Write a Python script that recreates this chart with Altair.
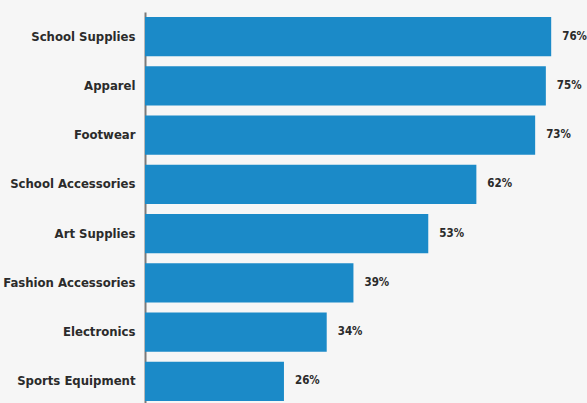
import altair as alt
import pandas as pd

categories = ["School Supplies", "Apparel", "Footwear", "School Accessories",
              "Art Supplies", "Fashion Accessories", "Electronics", "Sports Equipment"]
values = [76, 75, 73, 62, 53, 39, 34, 26]
labels = ["76%", "75%", "73%", "62%", "53%", "39%", "34%", "26%"]

df = pd.DataFrame({"category": categories, "value": values, "label": labels})

FONT = "'DejaVu Sans Condensed', sans-serif"

y = alt.Y("category:N", sort=categories, title=None,
          scale=alt.Scale(paddingInner=0.2, paddingOuter=0.1),
          axis=alt.Axis(domain=True, domainColor="#7a7a7a", domainWidth=2,
                        ticks=False, labelFont=FONT, labelFontSize=13,
                        labelFontWeight="bold", labelColor="#2b2b2b",
                        labelPadding=10, grid=False, labelLimit=200))
x = alt.X("value:Q", title=None, scale=alt.Scale(domain=[0, 82.7], nice=False),
          axis=None)

bars = alt.Chart(df).mark_bar(color="#1b8ac8").encode(x=x, y=y)
text = alt.Chart(df).mark_text(align="left", baseline="middle", dx=11,
                               font=FONT, fontSize=11.5, fontWeight="bold",
                               color="#2b2b2b").encode(x=x, y=y, text="label:N")

chart = (bars + text).properties(
    width=442, height=394,
    autosize=alt.AutoSizeParams(type="none"),
    padding={"left": 145, "top": 12, "right": 0, "bottom": 0},
    background="#f6f6f6",
).configure_view(stroke=None)

chart.save("out.html", embed_options={"renderer": "svg", "actions": False})
